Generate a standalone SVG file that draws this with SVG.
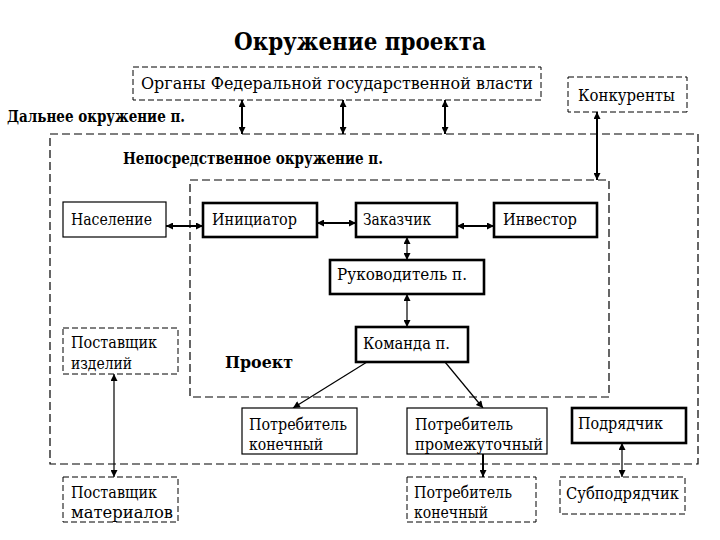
<svg xmlns="http://www.w3.org/2000/svg" width="720" height="540" viewBox="0 0 720 540">
<style>
text{font-family:'DejaVu Serif','Liberation Serif',serif;fill:#000}
.t{font-size:16.5px}
.b{font-weight:bold}
.box{fill:#fff;stroke:#000;stroke-width:1.2}
.thick{fill:#fff;stroke:#000;stroke-width:2.6}
.dash{fill:#fff;stroke:#000;stroke-width:1;stroke-dasharray:6 3}
.area{fill:none;stroke:#000;stroke-width:1.2;stroke-dasharray:8 4}
.c{stroke:#000;fill:none}
.w2{stroke-width:2}
.w1{stroke-width:1.2}
</style>
<defs>
<marker id="a" viewBox="0 0 10 10" refX="10" refY="5" markerWidth="8" markerHeight="7" markerUnits="userSpaceOnUse" orient="auto-start-reverse"><path d="M0,0 L10,5 L0,10 Z" fill="#000"/></marker>
</defs>
<rect width="720" height="540" fill="#fff"/>
<text x="234" y="50" font-size="25" class="b" textLength="252" lengthAdjust="spacingAndGlyphs">Окружение проекта</text>

<g id="areas">
<rect id="far" class="area" x="50" y="134" width="648" height="330"/>
<rect id="project" class="area" x="190" y="180" width="419" height="217"/>
<text x="7" y="122" class="b" font-size="16" textLength="178" lengthAdjust="spacingAndGlyphs">Дальнее окружение п.</text>
<text x="123" y="164" class="b" font-size="16" textLength="260" lengthAdjust="spacingAndGlyphs">Непосредственное окружение п.</text>
<text x="225" y="368" class="b" font-size="17.5" textLength="68" lengthAdjust="spacingAndGlyphs">Проект</text>
</g>

<g id="connectors">
<line class="c w2" x1="242" y1="100" x2="242" y2="134" marker-start="url(#a)" marker-end="url(#a)"/>
<line class="c w2" x1="343" y1="100" x2="343" y2="134" marker-start="url(#a)" marker-end="url(#a)"/>
<line class="c w2" x1="445" y1="100" x2="445" y2="134" marker-start="url(#a)" marker-end="url(#a)"/>
<line class="c w2" x1="597" y1="112" x2="597" y2="180" marker-start="url(#a)" marker-end="url(#a)"/>
<line class="c w2" x1="166" y1="226" x2="203" y2="226" marker-start="url(#a)" marker-end="url(#a)"/>
<line class="c w2" x1="317" y1="223" x2="356" y2="223" marker-start="url(#a)" marker-end="url(#a)"/>
<line class="c w2" x1="457" y1="226" x2="494" y2="226" marker-start="url(#a)" marker-end="url(#a)"/>
<line class="c w1" x1="407" y1="237" x2="407" y2="260" marker-start="url(#a)" marker-end="url(#a)"/>
<line class="c w1" x1="407" y1="294" x2="407" y2="327" marker-start="url(#a)" marker-end="url(#a)"/>
<line class="c w1" x1="367" y1="362" x2="293" y2="408" marker-end="url(#a)"/>
<line class="c w1" x1="445" y1="362" x2="483" y2="408" marker-end="url(#a)"/>
<line class="c w1" x1="114" y1="374" x2="114" y2="477" marker-start="url(#a)" marker-end="url(#a)"/>
<line class="c w2" x1="483" y1="454" x2="483" y2="477" marker-end="url(#a)"/>
<line class="c w1" x1="622" y1="443" x2="622" y2="477" marker-start="url(#a)" marker-end="url(#a)"/>
</g>

<g id="organy"><rect class="dash" x="133" y="67" width="408" height="33"/><text x="141" y="89" class="t" textLength="392" lengthAdjust="spacingAndGlyphs">Органы Федеральной государственной власти</text></g>
<g id="konkurenty"><rect class="dash" x="568" y="77" width="119" height="35"/><text x="578" y="101" class="t" textLength="97" lengthAdjust="spacingAndGlyphs">Конкуренты</text></g>
<g id="naselenie"><rect class="box" x="63" y="202" width="103" height="35"/><text x="71" y="225" class="t" textLength="81" lengthAdjust="spacingAndGlyphs">Население</text></g>
<g id="iniciator"><rect class="thick" x="203" y="203" width="114" height="34"/><text x="212" y="225" class="t" textLength="85" lengthAdjust="spacingAndGlyphs">Инициатор</text></g>
<g id="zakazchik"><rect class="thick" x="356" y="203" width="101" height="34"/><text x="363" y="225" class="t" textLength="68" lengthAdjust="spacingAndGlyphs">Заказчик</text></g>
<g id="investor"><rect class="thick" x="494" y="203" width="103" height="34"/><text x="503" y="225" class="t" textLength="74" lengthAdjust="spacingAndGlyphs">Инвестор</text></g>
<g id="rukovoditel"><rect class="thick" x="330" y="260" width="154" height="34"/><text x="337" y="280" class="t" textLength="130" lengthAdjust="spacingAndGlyphs">Руководитель п.</text></g>
<g id="komanda"><rect class="thick" x="356" y="327" width="112" height="35"/><text x="363" y="349" class="t" textLength="87" lengthAdjust="spacingAndGlyphs">Команда п.</text></g>
<g id="postavshik-izd"><rect class="dash" x="63" y="328" width="115" height="46"/><text x="71" y="348" class="t" textLength="86" lengthAdjust="spacingAndGlyphs">Поставщик</text><text x="71" y="369" class="t" textLength="61" lengthAdjust="spacingAndGlyphs">изделий</text></g>
<g id="potr-kon1"><rect class="box" x="242" y="408" width="115" height="46"/><text x="249" y="430" class="t" textLength="98" lengthAdjust="spacingAndGlyphs">Потребитель</text><text x="249" y="450" class="t" textLength="74" lengthAdjust="spacingAndGlyphs">конечный</text></g>
<g id="potr-prom"><rect class="box" x="407" y="408" width="140" height="46"/><text x="415" y="430" class="t" textLength="98" lengthAdjust="spacingAndGlyphs">Потребитель</text><text x="415" y="450" class="t" textLength="128" lengthAdjust="spacingAndGlyphs">промежуточный</text></g>
<g id="podryadchik"><rect class="thick" x="572" y="408" width="114" height="35"/><text x="578" y="429" class="t" textLength="85" lengthAdjust="spacingAndGlyphs">Подрядчик</text></g>
<g id="postavshik-mat"><rect class="dash" x="63" y="477" width="115" height="45"/><text x="71" y="498" class="t" textLength="86" lengthAdjust="spacingAndGlyphs">Поставщик</text><text x="71" y="518" class="t" textLength="102" lengthAdjust="spacingAndGlyphs">материалов</text></g>
<g id="potr-kon2"><rect class="dash" x="407" y="477" width="129" height="45"/><text x="414" y="498" class="t" textLength="98" lengthAdjust="spacingAndGlyphs">Потребитель</text><text x="414" y="518" class="t" textLength="74" lengthAdjust="spacingAndGlyphs">конечный</text></g>
<g id="subpodryadchik"><rect class="dash" x="560" y="477" width="125" height="37"/><text x="566" y="499" class="t" textLength="113" lengthAdjust="spacingAndGlyphs">Субподрядчик</text></g>
</svg>
